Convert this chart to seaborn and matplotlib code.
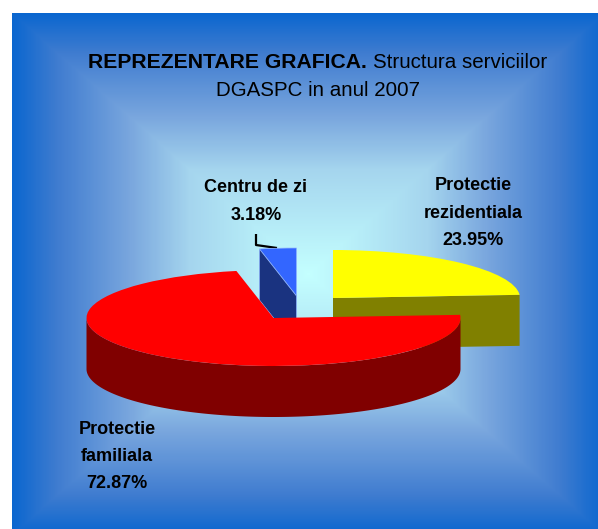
import matplotlib.pyplot as plt
import numpy as np
import seaborn as sb
from matplotlib.colors import LinearSegmentedColormap

# data
categories = ["Protectie\nrezidentiala", "Protectie\nfamiliala", "Centru de zi"]
shares = [23.95, 72.87, 3.18]

WIDTH, HEIGHT = 598, 529
RX, RY, DEPTH = 187.0, 48.0, 51.0
ORIGIN = (273.5, 318.0)

top_colors = ["#ffff00", "#ff0000", "#3366ff"]
side_colors = ["#808000", "#800000", "#1a3380"]
# where each slice sits, in pixels
slice_centers = [(333.0, 298.0), (273.5, 318.0), (296.5, 296.0)]
label_pos = [(473, 213), (117, 456.5), (256, 201.5)]


def to_unit(px, py):
    return (px - ORIGIN[0]) / RX, (ORIGIN[1] - py) / RY


sb.set_theme(style="white")
plt.rcParams["font.family"] = ["Liberation Sans", "DejaVu Sans"]

fig = plt.figure(figsize=(WIDTH / 100, HEIGHT / 100), dpi=100, facecolor="white")

# background with rectangular gradient, it runs a bit past the image edge
bg = fig.add_axes([0, 0, 1, 1])
bg.set_axis_off()
xx, yy = np.meshgrid(np.arange(12, WIDTH) + 0.5, np.arange(13, HEIGHT) + 0.5)
t = np.maximum(np.abs(xx - 308.5) / 296.5, np.abs(yy - 274) / 261)
cmap = LinearSegmentedColormap.from_list(
    "bg", [(0, "#c4ffff"), (0.4, "#a5d5ee"), (0.6, "#7aa7de"), (0.85, "#3f7cd0"), (1, "#0a66cf")]
)
bg.imshow(t, cmap=cmap, vmin=0, vmax=1, extent=(12, WIDTH, HEIGHT, 13), aspect="auto", interpolation="bilinear")
bg.set_xlim(0, WIDTH)
bg.set_ylim(HEIGHT, 0)
bg.plot([256, 256, 277], [234, 245, 248], color="black", lw=1.6, solid_capstyle="butt")

# pie axes: one data unit is the radius, so circles turn into flat ellipses
ax = fig.add_axes([0, 0, 1, 1])
ax.patch.set_alpha(0)
wedges, _ = ax.pie(shares, colors=top_colors, startangle=90, counterclock=False, wedgeprops={"linewidth": 0})
ax.set_aspect("auto")
ax.set_xlim(to_unit(0, 0)[0], to_unit(WIDTH, 0)[0])
ax.set_ylim(to_unit(0, HEIGHT)[1], to_unit(0, 0)[1])
ax.set_axis_off()
wedges[2].set_edgecolor("#8fb4ff")
wedges[2].set_linewidth(0.5)

d = DEPTH / RY
order = [2, 0, 1]  # back to front
for z, i in enumerate(order):
    w = wedges[i]
    cx, cy = to_unit(*slice_centers[i])
    w.set_center((cx, cy))
    w.set_zorder(10 + z * 2 + 1)
    th1, th2 = np.radians(w.theta1), np.radians(w.theta2)
    if i == 1:
        # front rim of the big slice, east round to west
        arc = np.radians(np.linspace(-180, 0, 180))
        xs = cx + np.cos(arc)
        ys = cy + np.sin(arc)
        ax.fill(
            np.r_[xs, xs[::-1]], np.r_[ys, ys[::-1] - d], color=side_colors[i], lw=0, zorder=10 + z * 2
        )
    elif i == 0:
        # cut face seen from the front
        fx = [cx, cx + np.cos(th1), cx + np.cos(th1), cx]
        fy = [cy, cy + np.sin(th1), cy + np.sin(th1) - d, cy - d]
        ax.fill(fx, fy, color=side_colors[i], lw=0, zorder=10 + z * 2)
    else:
        fx = [cx, cx + np.cos(th2), cx + np.cos(th2), cx]
        fy = [cy, cy + np.sin(th2), cy + np.sin(th2) - d, cy - d]
        ax.fill(fx, fy, facecolor=side_colors[i], edgecolor="#8fb4ff", lw=0.5, zorder=10 + z * 2 + 2)

# title, two runs of text
fig.text(88 / WIDTH, 1 - 63 / HEIGHT, "REPREZENTARE GRAFICA.", fontsize=15.2, fontweight="bold", va="center", color="black")
fig.text(373 / WIDTH, 1 - 63 / HEIGHT, "Structura serviciilor", fontsize=14.8, va="center", color="black")
fig.text(318 / WIDTH, 1 - 91 / HEIGHT, "DGASPC in anul 2007", fontsize=14.8, ha="center", va="center", color="black")

for name, share, (lx, ly) in zip(categories, shares, label_pos):
    fig.text(
        lx / WIDTH,
        1 - ly / HEIGHT,
        f"{name}\n{share:.2f}%",
        fontsize=13,
        fontweight="bold",
        ha="center",
        va="center",
        linespacing=1.78,
        color="black",
        zorder=30,
    )

fig.savefig("out.png", dpi=100, facecolor="white")
